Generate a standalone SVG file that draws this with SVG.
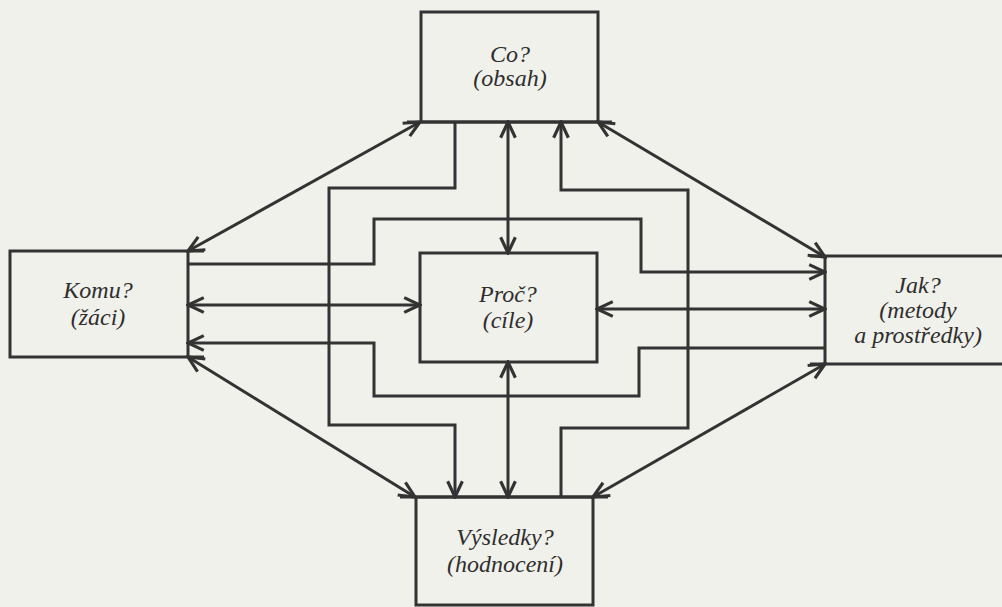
<svg xmlns="http://www.w3.org/2000/svg" width="1002" height="607" viewBox="0 0 1002 607">
<style>
.box{fill:none;stroke:#333;stroke-width:3}
.ext{stroke:#333;stroke-width:3}
.c{fill:none;stroke:#333;stroke-width:3;stroke-linejoin:miter}
.t{font-family:'Liberation Serif','Times New Roman',serif;font-style:italic;font-size:24px;fill:#2e2e2e;text-anchor:middle}
</style>
<defs>
<marker id="ah" markerUnits="userSpaceOnUse" markerWidth="20" markerHeight="20" viewBox="-17 -9 19 18" refX="0" refY="0" orient="auto-start-reverse">
<path d="M-15,-7 L0,0 L-15,7" fill="none" stroke="#333" stroke-width="3"/>
</marker>
</defs>
<rect width="1002" height="607" fill="#f1f1ec"/>
<g id="connectors">
<path class="c" d="M188,251 L420,122" marker-start="url(#ah)" marker-end="url(#ah)"/>
<path class="c" d="M598,122 L825,257" marker-start="url(#ah)" marker-end="url(#ah)"/>
<path class="c" d="M188,357 L415,497" marker-start="url(#ah)" marker-end="url(#ah)"/>
<path class="c" d="M825,364 L593,497" marker-start="url(#ah)" marker-end="url(#ah)"/>
<path class="c" d="M508,122 L508,253" marker-start="url(#ah)" marker-end="url(#ah)"/>
<path class="c" d="M508,362 L508,497" marker-start="url(#ah)" marker-end="url(#ah)"/>
<path class="c" d="M188,305 L420,305" marker-start="url(#ah)" marker-end="url(#ah)"/>
<path class="c" d="M597,309 L825,309" marker-start="url(#ah)" marker-end="url(#ah)"/>
<path class="c" d="M455,122 V188 H329 V425 H455 V497" marker-end="url(#ah)"/>
<path class="c" d="M561,497 V428 H688 V190 H561 V122" marker-end="url(#ah)"/>
<path class="c" d="M188,264 H374 V219 H641 V272 H825" marker-end="url(#ah)"/>
<path class="c" d="M825,348 H639 V396 H374 V343 H188" marker-end="url(#ah)"/>
</g>
<g id="co">
<rect class="box" x="421" y="12" width="177" height="110"/>
<line class="ext" x1="407" y1="122" x2="612" y2="122"/>
<text class="t" x="510" y="62" font-family="Liberation Serif, serif">Co?</text>
<text class="t" x="510" y="86" font-family="Liberation Serif, serif">(obsah)</text>
</g>
<g id="proc">
<rect class="box" x="420" y="253" width="177" height="109"/>
<text class="t" x="508" y="302" font-family="Liberation Serif, serif">Proč?</text>
<text class="t" x="508" y="328" font-family="Liberation Serif, serif">(cíle)</text>
</g>
<g id="komu">
<rect class="box" x="10" y="251" width="178" height="106"/>
<line class="ext" x1="188" y1="251" x2="204" y2="251"/>
<line class="ext" x1="188" y1="357" x2="204" y2="357"/>
<text class="t" x="98" y="298" font-family="Liberation Serif, serif">Komu?</text>
<text class="t" x="98" y="325" font-family="Liberation Serif, serif">(žáci)</text>
</g>
<g id="jak">
<rect class="box" x="825" y="256" width="186" height="108"/>
<line class="ext" x1="810" y1="256" x2="825" y2="256"/>
<line class="ext" x1="810" y1="364" x2="825" y2="364"/>
<text class="t" x="918" y="293" font-family="Liberation Serif, serif">Jak?</text>
<text class="t" x="918" y="318" font-family="Liberation Serif, serif">(metody</text>
<text class="t" x="918" y="343" font-family="Liberation Serif, serif">a prostředky)</text>
</g>
<g id="vysledky">
<rect class="box" x="416" y="497" width="177" height="108"/>
<line class="ext" x1="400" y1="497" x2="608" y2="497"/>
<text class="t" x="505" y="545" font-family="Liberation Serif, serif">Výsledky?</text>
<text class="t" x="505" y="572" font-family="Liberation Serif, serif">(hodnocení)</text>
</g>
</svg>
